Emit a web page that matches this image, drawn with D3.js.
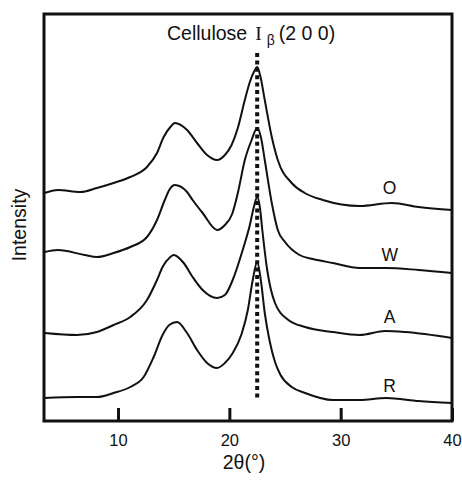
<!DOCTYPE html>
<html>
<head>
<meta charset="utf-8">
<script src="https://cdn.jsdelivr.net/npm/d3@7"></script>
<style>
  html, body { margin: 0; padding: 0; background: #fff; }
  #xrd-chart { width: 462px; height: 483px; }
</style>
</head>
<body>
<div id="xrd-chart"></div>
<script>
/* XRD patterns of four cellulose samples (O, W, A, R), stacked,
   with the cellulose I-beta (200) reflection marked. */

// --- Data (2θ in degrees, intensity in arbitrary stacked units) ---
var sampleNames = ['O', 'W', 'A', 'R'];

var seriesO = [
  [3.4, 228], [4.6, 231], [6.6, 229], [8.1, 233], [9.6, 238], [11.1, 244],
  [12.6, 254], [13.5, 268], [14.1, 284], [14.7, 294], [15.1, 298], [16.2, 291],
  [17.1, 278], [18.0, 266], [18.9, 261], [19.6, 266], [20.2, 276], [20.76, 293],
  [21.39, 321], [21.84, 339], [22.2, 349], [22.5, 354], [22.8, 344], [23.18, 321],
  [23.81, 284], [24.35, 261], [25.6, 238], [26.77, 228], [28.4, 221], [31.7, 215],
  [34.6, 218], [37.0, 214], [40.0, 211]
];

var seriesW = [
  [3.4, 169], [4.6, 171], [7.0, 166], [8.1, 164], [9.6, 168], [11.1, 174],
  [12.6, 184], [13.5, 201], [14.2, 221], [14.6, 231], [15.1, 236], [16.2, 229],
  [16.7, 221], [17.6, 208], [18.9, 191], [19.6, 196], [20.25, 207], [20.76, 228],
  [21.39, 261], [22.0, 281], [22.5, 293], [22.85, 283], [23.18, 261], [23.81, 218],
  [24.35, 191], [25.0, 179], [26.3, 166], [27.5, 162], [29.3, 158], [31.7, 153],
  [34.1, 153], [37.0, 151], [40.0, 148]
];

var seriesA = [
  [3.4, 88], [6.3, 86], [8.1, 89], [9.6, 96], [11.1, 104], [12.6, 121],
  [13.5, 141], [14.0, 154], [14.7, 164], [15.0, 166], [15.9, 158], [16.7, 144],
  [17.6, 131], [18.9, 123], [19.6, 126], [20.3, 141], [21.2, 171], [21.84, 196],
  [22.2, 214], [22.5, 224], [22.75, 213], [22.96, 191], [23.4, 151], [24.1, 118],
  [25.3, 101], [26.8, 94], [29.3, 89], [31.7, 86], [34.0, 90], [35.8, 89],
  [40.0, 83]
];

var seriesR = [
  [3.4, 23], [6.3, 24], [8.1, 24], [9.6, 28], [11.1, 34], [12.3, 44],
  [13.2, 64], [14.0, 86], [14.6, 96], [15.3, 99], [16.2, 88], [17.1, 71],
  [18.0, 58], [18.9, 53], [19.6, 58], [20.25, 67], [21.1, 87], [21.66, 111],
  [22.1, 141], [22.5, 159], [22.85, 139], [23.18, 108], [23.6, 81], [24.1, 59],
  [24.6, 46], [25.6, 34], [26.8, 28], [29.3, 21], [31.7, 21], [34.1, 23],
  [37.0, 20], [40.0, 18]
];

var xTicks = [10, 20, 30, 40];
var xDomain = [3.35, 40];
var yDomain = [0, 407];

// Cellulose I-beta (200) reflection: position and vertical extent of the marker
var peak200 = 22.5;
var peakMarkerRange = [23, 368];
var labelAt = 34.4;

(function () {
  'use strict';

  var allSeries = [seriesO, seriesW, seriesA, seriesR];

  // --- Dimensions ---
  var width = 462, height = 483;
  var margin = { top: 14, right: 10, bottom: 62, left: 44 };
  var innerW = width - margin.left - margin.right;
  var innerH = height - margin.top - margin.bottom;
  var font = 'Arial, "Liberation Sans", Helvetica, sans-serif';

  var svg = d3.select('#xrd-chart')
    .append('svg')
    .attr('width', width)
    .attr('height', height)
    .attr('viewBox', '0 0 ' + width + ' ' + height);

  var g = svg.append('g')
    .attr('transform', 'translate(' + margin.left + ',' + margin.top + ')');

  var x = d3.scaleLinear().domain(xDomain).range([0, innerW]);
  var y = d3.scaleLinear().domain(yDomain).range([innerH, 0]);

  // --- Traces ---
  var line = d3.line()
    .x(function (d) { return x(d[0]); })
    .y(function (d) { return y(d[1]); })
    .curve(d3.curveMonotoneX);

  g.append('g')
    .attr('fill', 'none')
    .attr('stroke', '#111')
    .attr('stroke-width', 2)
    .attr('stroke-linejoin', 'round')
    .selectAll('path')
    .data(allSeries)
    .join('path')
    .attr('d', line);

  // --- (200) marker ---
  g.append('line')
    .attr('x1', x(peak200))
    .attr('x2', x(peak200))
    .attr('y1', y(peakMarkerRange[1]))
    .attr('y2', y(peakMarkerRange[0]))
    .attr('stroke', '#111')
    .attr('stroke-width', 4)
    .attr('stroke-dasharray', '4 3.4');

  // --- Sample labels, sitting above each trace ---
  var bisect = d3.bisector(function (d) { return d[0]; }).left;
  g.append('g')
    .selectAll('text')
    .data(allSeries)
    .join('text')
    .attr('x', x(labelAt))
    .attr('y', function (s) {
      var i = Math.min(bisect(s, labelAt), s.length - 1);
      return y(s[i][1]) - 15;
    })
    .attr('dy', '0.35em')
    .attr('text-anchor', 'middle')
    .attr('font-family', font)
    .attr('font-size', '17.5px')
    .attr('fill', '#111')
    .text(function (s, i) { return sampleNames[i]; });

  // --- Axis (inward ticks) and frame ---
  var xAxis = d3.axisBottom(x)
    .tickValues(xTicks)
    .tickSizeInner(-13)
    .tickSizeOuter(0)
    .tickPadding(13)
    .tickFormat(d3.format('d'));

  var ax = g.append('g')
    .attr('transform', 'translate(0,' + innerH + ')')
    .call(xAxis);
  ax.select('.domain').remove();
  ax.selectAll('.tick line').attr('stroke', '#111').attr('stroke-width', 3);
  ax.selectAll('.tick text')
    .attr('font-family', font)
    .attr('font-size', '16.5px')
    .attr('fill', '#111');

  g.append('rect')
    .attr('x', 0)
    .attr('y', 0)
    .attr('width', innerW)
    .attr('height', innerH)
    .attr('fill', 'none')
    .attr('stroke', '#111')
    .attr('stroke-width', 3);

  // --- Axis titles ---
  svg.append('text')
    .attr('x', margin.left + innerW / 2 - 4)
    .attr('y', 469)
    .attr('text-anchor', 'middle')
    .attr('font-family', font)
    .attr('font-size', '19.5px')
    .attr('fill', '#111')
    .text('2\u03b8(\u00b0)');

  svg.append('text')
    .attr('transform', 'translate(26,225) rotate(-90)')
    .attr('text-anchor', 'middle')
    .attr('font-family', font)
    .attr('font-size', '19.5px')
    .attr('fill', '#111')
    .text('Intensity');

  // --- Peak annotation: Cellulose I_beta (2 0 0) ---
  var title = svg.append('text')
    .attr('x', 167)
    .attr('y', 40)
    .attr('font-family', font)
    .attr('font-size', '19.5px')
    .attr('fill', '#111');
  title.append('tspan').text('Cellulose');
  title.append('tspan')
    .attr('dx', 8)
    .attr('font-family', '"Liberation Serif", "Times New Roman", serif')
    .text('I');
  title.append('tspan')
    .attr('dx', 5)
    .attr('dy', 5)
    .attr('font-size', '14px')
    .text('\u03b2');
  title.append('tspan')
    .attr('dx', 4)
    .attr('dy', -5)
    .text('(2 0 0)');
})();
</script>
</body>
</html>
